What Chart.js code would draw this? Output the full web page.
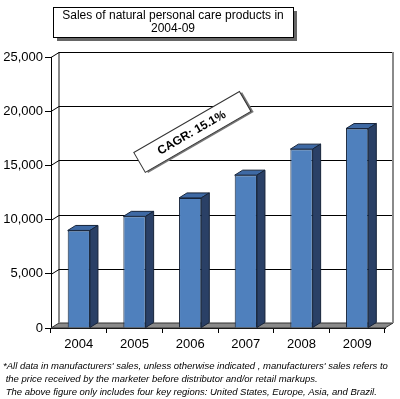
<!DOCTYPE html>
<html>
<head>
<meta charset="utf-8">
<script src="https://cdn.jsdelivr.net/npm/chart.js@4"></script>
<style>
  html, body { margin: 0; padding: 0; background: #fff; }
  #salesChart { display: block; }
</style>
</head>
<body>
<canvas id="salesChart" width="400" height="399"></canvas>
<script>
// data
const years = ['2004', '2005', '2006', '2007', '2008', '2009'];
const sales = [9000, 10300, 12000, 14100, 16500, 18400];
const yMax = 25000;
const yStep = 5000;

const titleLines = ['Sales of natural personal care products in', '2004-09'];
const cagrLabel = 'CAGR: 15.1%';
const notes = [
  "*All data in manufacturers' sales, unless otherwise indicated , manufacturers' sales refers to",
  " the price received by the marketer before distributor and/or retail markups.",
  " The above figure only includes four key regions: United States, Europe, Asia, and Brazil."
];

const DX = 8, DY = 5; // depth of the 3d look

const wallPlugin = {
  id: 'wall',
  beforeDatasetsDraw(chart) {
    const { ctx, chartArea: a, scales: { y } } = chart;
    ctx.save();
    // floor
    ctx.beginPath();
    ctx.moveTo(a.left, a.bottom);
    ctx.lineTo(a.right, a.bottom);
    ctx.lineTo(a.right + DX, a.bottom - DY);
    ctx.lineTo(a.left + DX, a.bottom - DY);
    ctx.closePath();
    ctx.fillStyle = '#8a8a8a';
    ctx.fill();
    ctx.strokeStyle = '#333';
    ctx.lineWidth = 1;
    ctx.stroke();

    // back wall edges
    ctx.strokeStyle = '#8a8a8a';
    ctx.lineWidth = 2;
    ctx.beginPath();
    ctx.moveTo(a.left + DX, a.bottom - DY);
    ctx.lineTo(a.left + DX, a.top - DY);
    ctx.moveTo(a.right + DX, a.bottom - DY);
    ctx.lineTo(a.right + DX, a.top - DY);
    ctx.stroke();

    // grid lines on the back wall
    ctx.strokeStyle = '#000';
    ctx.lineWidth = 1;
    y.ticks.forEach(t => {
      if (t.value === 0) return;
      const py = Math.round(y.getPixelForValue(t.value)) + 0.5;
      ctx.beginPath();
      ctx.moveTo(a.left, py);
      ctx.lineTo(a.left + DX, py - DY);
      ctx.lineTo(a.right + DX - 1, py - DY);
      ctx.stroke();
    });
    ctx.restore();
  },
  afterDatasetsDraw(chart) {
    const { ctx } = chart;
    const meta = chart.getDatasetMeta(0);
    ctx.save();
    ctx.strokeStyle = '#16243a';
    ctx.lineWidth = 1;
    meta.data.forEach(bar => {
      const l = bar.x - bar.width / 2, r = bar.x + bar.width / 2;
      const t = bar.y, b = bar.base;
      // top face
      ctx.beginPath();
      ctx.moveTo(l, t);
      ctx.lineTo(r, t);
      ctx.lineTo(r + DX, t - DY);
      ctx.lineTo(l + DX, t - DY);
      ctx.closePath();
      ctx.fillStyle = '#3e69a4';
      ctx.fill();
      ctx.stroke();
      // side face
      ctx.beginPath();
      ctx.moveTo(r, t);
      ctx.lineTo(r + DX, t - DY);
      ctx.lineTo(r + DX, b - DY);
      ctx.lineTo(r, b);
      ctx.closePath();
      ctx.fillStyle = '#2a4066';
      ctx.fill();
      ctx.stroke();
    });
    ctx.restore();
  },
  afterDraw(chart) {
    const { ctx } = chart;
    ctx.save();
    // title box
    ctx.fillStyle = '#666';
    ctx.fillRect(57, 11, 240, 30);
    ctx.fillStyle = '#fff';
    ctx.fillRect(53, 7, 240, 30);
    ctx.strokeStyle = '#000';
    ctx.lineWidth = 1;
    ctx.strokeRect(53.5, 7.5, 240, 30);
    ctx.fillStyle = '#000';
    ctx.font = '12px "Liberation Sans", Arial, sans-serif';
    ctx.textAlign = 'center';
    ctx.textBaseline = 'middle';
    ctx.fillText(titleLines[0], 173, 16);
    ctx.fillText(titleLines[1], 173, 29);

    // CAGR box
    ctx.save();
    ctx.translate(193, 131);
    ctx.rotate(-30 * Math.PI / 180);
    ctx.fillStyle = '#777';
    ctx.fillRect(-60, -9, 122, 23);
    ctx.fillStyle = '#fff';
    ctx.fillRect(-62, -11, 122, 23);
    ctx.strokeStyle = '#333';
    ctx.strokeRect(-62, -11, 122, 23);
    ctx.fillStyle = '#000';
    ctx.font = 'bold 12px "Liberation Sans", Arial, sans-serif';
    ctx.fillText(cagrLabel, -2, 1);
    ctx.restore();

    // notes
    ctx.font = 'italic 9.5px "Liberation Sans", Arial, sans-serif';
    ctx.textAlign = 'left';
    ctx.textBaseline = 'middle';
    notes.forEach((n, i) => ctx.fillText(n, 3, 366 + i * 13));
    ctx.restore();
  }
};

new Chart(document.getElementById('salesChart'), {
  type: 'bar',
  data: {
    labels: years,
    datasets: [{
      data: sales,
      backgroundColor: '#4f80bd',
      borderColor: '#16243a',
      borderWidth: 1,
      barPercentage: 0.4,
      categoryPercentage: 1
    }]
  },
  options: {
    responsive: false,
    animation: false,
    layout: { padding: { top: 57, right: 15, left: 0, bottom: 0 } },
    plugins: { legend: { display: false }, tooltip: { enabled: false }, title: { display: false } },
    scales: {
      x: {
        grid: { drawOnChartArea: false, tickLength: 5, color: '#000', offset: true },
        border: { color: '#000' },
        ticks: { color: '#000', font: { family: '"Liberation Sans", Arial', size: 13 }, padding: 4 },
        afterFit(s) { s.height = 71; }
      },
      y: {
        min: 0,
        max: yMax,
        grid: { drawOnChartArea: false, tickLength: 6, color: '#000' },
        border: { color: '#000' },
        ticks: {
          stepSize: yStep,
          color: '#000',
          padding: 2,
          font: { family: '"Liberation Sans", Arial', size: 13 },
          callback: v => v.toLocaleString('en-US')
        },
        afterFit(s) { s.width = 51; }
      }
    }
  },
  plugins: [wallPlugin]
});
</script>
</body>
</html>
